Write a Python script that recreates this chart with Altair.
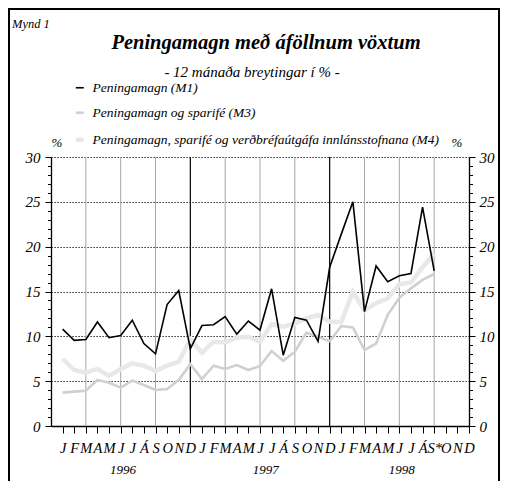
import altair as alt
import pandas as pd

# ---- data -------------------------------------------------------------
months = ["J", "F", "M", "A", "M", "J", "J", "Á", "S", "O", "N", "D"]
month_labels = months + months + ["J", "F", "M", "A", "M", "J", "J", "Á", "S*", "O", "N", "D"]
years = ["1996", "1997", "1998"]
year_pos = [5.2, 17.5, 29.2]
year_breaks = [11, 23]
quarter_marks = [2, 5, 8, 14, 17, 20, 26, 29, 32]

series_names = [
    "Peningamagn (M1)",
    "Peningamagn og sparifé (M3)",
    "Peningamagn, sparifé og verðbréfaútgáfa innlánsstofnana (M4)",
]
# Jan 1996 .. Sep 1998 (12-month change, %)
m1 = [10.8, 9.55, 9.65, 11.6, 9.85, 10.1, 11.8, 9.2, 8.05, 13.55, 15.1, 8.6,
      11.2, 11.3, 12.2, 10.25, 11.7, 10.7, 15.3, 7.9, 12.1, 11.8, 9.45, 17.7,
      21.4, 25.0, 12.75, 17.85, 16.1, 16.75, 17.0, 24.4, 17.3]
m3 = [3.72, 3.83, 3.94, 5.13, 4.83, 4.28, 5.06, 4.57, 4.01, 4.13, 5.13, 6.9,
      5.24, 6.73, 6.36, 6.8, 6.24, 6.69, 8.36, 7.28, 8.29, 10.4, 9.95, 9.45,
      11.15, 11.0, 8.47, 9.2, 12.4, 14.3, 15.35, 16.3, 16.95]
m4 = [7.5, 6.24, 5.95, 6.36, 5.58, 6.36, 6.99, 6.73, 6.13, 6.73, 7.17, 9.67,
      8.18, 9.4, 9.33, 9.85, 9.96, 9.4, 11.37, 11.08, 11.45, 12.0, 12.38, 11.63,
      11.6, 14.95, 12.9, 13.7, 14.24, 15.8, 16.0, 17.7, 19.2]

colors = ["#000000", "#d0d0d0", "#e8e8e8"]
widths = [1.6, 2.6, 4.5]

rows = []
for name, vals in [(series_names[2], m4), (series_names[1], m3), (series_names[0], m1)]:
    for i, v in enumerate(vals):
        rows.append({"idx": i, "value": v, "series": name})
df = pd.DataFrame(rows)
year_df = pd.DataFrame({"idx": year_pos, "year": years})
break_df = pd.DataFrame({"pos": year_breaks})
quarter_df = pd.DataFrame({"qpos": quarter_marks})
yaxis_df = pd.DataFrame({"value": [0, 30]})

# ---- styling ----------------------------------------------------------
W, H = 418, 269
FONT = "Liberation Serif"
label_arr = "[" + ",".join("'" + s + "'" for s in month_labels) + "]"

xscale = alt.Scale(domain=[-1, 35], nice=False, zero=False)
yscale = alt.Scale(domain=[0, 30], nice=False, zero=True)

x_axis = alt.Axis(
    values=list(range(36)),
    labelExpr=label_arr + "[datum.value]",
    title=None,
    tickSize=7,
    tickColor="black",
    tickWidth=1,
    domainColor="black",
    domainWidth=1.3,
    grid=False,
    labelFont=FONT,
    labelFontStyle="italic",
    labelFontSize=14.5,
    labelColor="black",
    labelPadding=8,
    labelOverlap=False,
    labelFlush=False,
    labelBound=False,
    labelSeparation=0,
)

def y_axis(orient, pad):
    return alt.Axis(
        orient=orient,
        values=list(range(31)),
        labelExpr="datum.value % 5 === 0 ? datum.label : ''",
        title=None,
        tickSize={"condition": {"test": "datum.value % 5 === 0", "value": 6}, "value": 3.5},
        tickColor="black",
        tickWidth=1,
        domainColor="black",
        domainWidth=1.3,
        grid=(orient == "left"),
        gridColor="black",
        gridWidth=1.2,
        gridDash=[1.2, 1.8],
        gridOpacity={"condition": {"test": "datum.value % 5 === 0 && datum.value > 0", "value": 1}, "value": 0},
        labelFont=FONT,
        labelFontStyle="italic",
        labelFontSize=15,
        labelColor="black",
        labelPadding=pad,
        labelOverlap=False,
    )

legend_opts = dict(
    orient="none", legendX=22, legendY=-76, title=None,
    labelFont=FONT, labelFontStyle="italic", labelFontSize=13.5,
    labelColor="black", labelLimit=400, labelOffset=6,
    symbolType="stroke", symbolSize=64, rowPadding=10, padding=0,
)

# quarterly guide lines (drawn light to stand in for the dotted verticals)
quarters = alt.Chart(quarter_df).mark_rule(color="#a8a8a8", strokeWidth=1).encode(
    x=alt.X("qpos:Q", scale=xscale, axis=x_axis),
)

breaks = alt.Chart(break_df).mark_rule(color="black", strokeWidth=1.2).encode(
    x=alt.X("pos:Q", scale=xscale, axis=x_axis),
)

lines = alt.Chart(df).mark_line(interpolate="linear", strokeJoin="miter").encode(
    x=alt.X("idx:Q", scale=xscale, axis=x_axis),
    y=alt.Y("value:Q", scale=yscale, axis=y_axis("left", 5)),
    color=alt.Color(
        "series:N",
        scale=alt.Scale(domain=series_names, range=colors),
        legend=alt.Legend(**legend_opts),
    ),
    strokeWidth=alt.StrokeWidth(
        "series:N",
        scale=alt.Scale(type="ordinal", domain=series_names, range=widths),
        legend=alt.Legend(**legend_opts),
    ),
    detail="series:N",
)

right_axis = alt.Chart(yaxis_df).mark_point(opacity=0).encode(
    y=alt.Y("value:Q", scale=yscale, axis=y_axis("right", 4)),
    x=alt.value(0),
)

year_text = alt.Chart(year_df).mark_text(
    font=FONT, fontStyle="italic", fontSize=13, align="center", baseline="alphabetic", color="black"
).encode(
    x=alt.X("idx:Q", scale=xscale, axis=x_axis),
    y=alt.value(H + 48),
    text="year:N",
)

base = alt.Chart(alt.Data(values=[{}]))

def label(txt, x, y, size, align="center", weight="normal"):
    return base.mark_text(
        text=txt, font=FONT, fontStyle="italic", fontSize=size, fontWeight=weight,
        align=align, baseline="alphabetic", color="black",
    ).encode(x=alt.value(x), y=alt.value(y))

title = label("Peningamagn með áföllnum vöxtum", 215, -108, 20.5, weight="bold")
subtitle = label("- 12 mánaða breytingar í % -", 201, -80, 15)
mynd = label("Mynd 1", -39, -129, 12.5, align="left")
pct_left = label("%", 6, -10, 13)
pct_right = label("%", W - 12, -10, 13)

frame = base.mark_rect(fillOpacity=0, stroke="black", strokeWidth=2).encode(
    x=alt.value(-42), x2=alt.value(448), y=alt.value(-148), y2=alt.value(340)
)

chart = alt.layer(
    quarters, breaks, lines, right_axis, year_text, title, subtitle, mynd, pct_left, pct_right, frame
).resolve_axis(y="independent").properties(
    width=W,
    height=H,
    padding={"left": 43, "top": 149, "right": 31, "bottom": 55},
    autosize=alt.AutoSizeParams(type="none"),
).configure_view(stroke=None)

chart.save("out.html", embed_options={"renderer": "svg", "actions": False})
